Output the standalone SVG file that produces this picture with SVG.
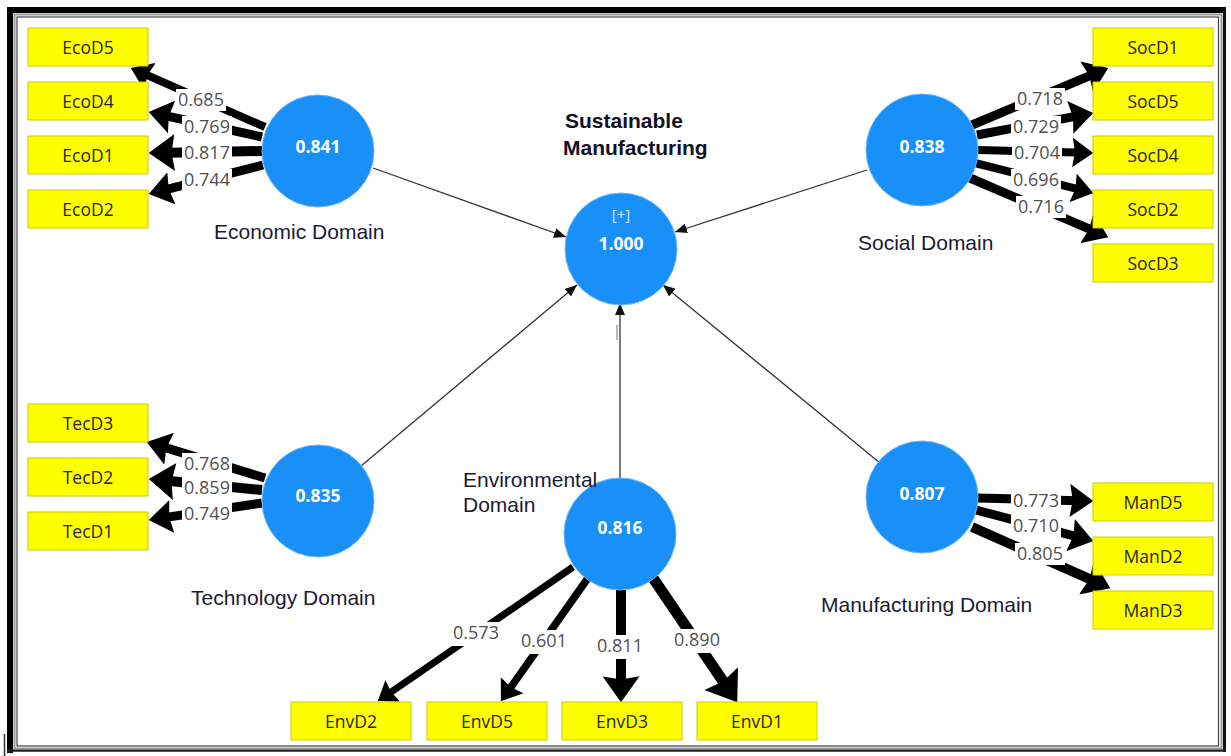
<svg xmlns="http://www.w3.org/2000/svg" width="1231" height="756" viewBox="0 0 1231 756">
  <style>
    .lv { fill: #1890f8; stroke: #6db5fb; stroke-width: 1; }
    .val { font-family: "Open Sans", "Noto Sans", sans-serif; font-weight: 700; font-size: 17.5px; fill: #ffffff; text-anchor: middle; }
    .name { font-family: "Liberation Sans", Arial, sans-serif; font-size: 21px; fill: #1a1a33; }
    .title { font-family: "Liberation Sans", Arial, sans-serif; font-size: 21px; font-weight: 700; fill: #111122; }
    .ind rect { fill: #ffff00; stroke: #cccc00; stroke-width: 1; }
    .ind text { font-family: "Open Sans", "Noto Sans", sans-serif; font-size: 17.5px; fill: #262626; text-anchor: middle; }
    .load { stroke: #000000; fill: none; marker-end: url(#head); }
    .path { stroke: #333333; stroke-width: 1.3; fill: none; marker-end: url(#tip); }
    .lbg { fill: #ffffff; }
    .ld { font-family: "Open Sans", "Noto Sans", sans-serif; font-size: 18px; fill: #505050; text-anchor: middle; }
  </style>
  <defs>
    <marker id="head" viewBox="0 -5 10 10" refX="6.8" refY="0" markerWidth="2.6" markerHeight="3.7" orient="auto" preserveAspectRatio="none">
      <path d="M0,-5 L10,0 L0,5 L1.2,0 Z" fill="#000000"/>
    </marker>
    <marker id="tip" viewBox="0 -5 12 10" refX="12" refY="0" markerWidth="12" markerHeight="10" markerUnits="userSpaceOnUse" orient="auto">
      <path d="M0,-5 L12,0 L0,5 Z" fill="#111111"/>
    </marker>
  </defs>

  <rect width="1231" height="756" fill="#ffffff"/>

  <!-- window frame -->
  <g id="frame" fill="none">
    <line x1="10" y1="7" x2="10" y2="753" stroke="#000" stroke-width="6"/>
    <line x1="7" y1="10" x2="1226" y2="10" stroke="#000" stroke-width="6"/>
    <line x1="1224.5" y1="7" x2="1224.5" y2="752" stroke="#111" stroke-width="3"/>
    <line x1="7" y1="750.5" x2="1226" y2="750.5" stroke="#222" stroke-width="2.5"/>
    <rect x="14.5" y="14.5" width="1207" height="734" stroke="#9a9a9a" stroke-width="2"/>
    <rect x="17" y="17" width="1201.5" height="729" stroke="#444" stroke-width="1.2"/>
    <line x1="4.5" y1="734" x2="4.5" y2="756" stroke="#333" stroke-width="1.5"/>
  </g>

  <g id="connectors">
    <!-- structural paths into the higher-order construct -->
    <line class="path" x1="373" y1="168" x2="566" y2="237"/>
    <line class="path" x1="867" y1="170" x2="675" y2="232"/>
    <line class="path" x1="361" y1="466" x2="577" y2="285"/>
    <line class="path" x1="620" y1="479" x2="620" y2="303"/>
    <line class="path" x1="880" y1="463" x2="663" y2="285"/>
    <line x1="617" y1="325" x2="617" y2="340" stroke="#888" stroke-width="1.2"/>

    <!-- Economic loadings -->
    <line class="load" stroke-width="8" x1="265" y1="127" x2="136.9" y2="70.6"/>
    <line class="load" stroke-width="9" x1="262" y1="137" x2="156" y2="113.6"/>
    <line class="load" stroke-width="10" x1="262" y1="151" x2="157" y2="152.9"/>
    <line class="load" stroke-width="9" x1="263" y1="165" x2="156" y2="192.2"/>

    <!-- Social loadings -->
    <line class="load" stroke-width="9" x1="972" y1="125" x2="1101.4" y2="70.8"/>
    <line class="load" stroke-width="9" x1="977" y1="135" x2="1085.9" y2="114.3"/>
    <line class="load" stroke-width="8" x1="978" y1="150" x2="1086.6" y2="152.8"/>
    <line class="load" stroke-width="8" x1="975" y1="163" x2="1086.8" y2="191.4"/>
    <line class="load" stroke-width="9" x1="970" y1="178" x2="1101.4" y2="234.2"/>

    <!-- Technology loadings -->
    <line class="load" stroke-width="9" x1="265" y1="478" x2="153.9" y2="444.1"/>
    <line class="load" stroke-width="10" x1="262" y1="490" x2="157" y2="479.8"/>
    <line class="load" stroke-width="9" x1="262" y1="503" x2="156.1" y2="518.9"/>

    <!-- Manufacturing loadings -->
    <line class="load" stroke-width="9" x1="977" y1="498" x2="1085.8" y2="500.9"/>
    <line class="load" stroke-width="9" x1="976" y1="510" x2="1086" y2="539.2"/>
    <line class="load" stroke-width="10" x1="972" y1="527" x2="1102.7" y2="584.8"/>

    <!-- Environmental loadings -->
    <line class="load" stroke-width="7" x1="573" y1="567" x2="382.6" y2="697.8"/>
    <line class="load" stroke-width="7.5" x1="588" y1="578" x2="504.5" y2="696.1"/>
    <line class="load" stroke-width="10" x1="621" y1="589" x2="621" y2="694"/>
    <line class="load" stroke-width="11" x1="653" y1="578" x2="732.1" y2="694.7"/>

    <!-- loading values -->
    <g id="loading-labels">
      <rect class="lbg" x="176" y="89" width="50" height="22"/><text class="ld" x="201" y="106">0.685</text>
      <rect class="lbg" x="182" y="116" width="50" height="22"/><text class="ld" x="207" y="133">0.769</text>
      <rect class="lbg" x="182" y="142" width="50" height="22"/><text class="ld" x="207" y="159">0.817</text>
      <rect class="lbg" x="182" y="169" width="50" height="22"/><text class="ld" x="207" y="186">0.744</text>

      <rect class="lbg" x="1015" y="88" width="50" height="22"/><text class="ld" x="1040" y="105">0.718</text>
      <rect class="lbg" x="1011" y="116" width="50" height="22"/><text class="ld" x="1036" y="133">0.729</text>
      <rect class="lbg" x="1012" y="142" width="50" height="22"/><text class="ld" x="1037" y="159">0.704</text>
      <rect class="lbg" x="1011" y="169" width="50" height="22"/><text class="ld" x="1036" y="186">0.696</text>
      <rect class="lbg" x="1016" y="196" width="50" height="22"/><text class="ld" x="1041" y="213">0.716</text>

      <rect class="lbg" x="182" y="453" width="50" height="22"/><text class="ld" x="207" y="470">0.768</text>
      <rect class="lbg" x="182" y="477" width="50" height="22"/><text class="ld" x="207" y="494">0.859</text>
      <rect class="lbg" x="182" y="503" width="50" height="22"/><text class="ld" x="207" y="520">0.749</text>

      <rect class="lbg" x="1011" y="490" width="50" height="22"/><text class="ld" x="1036" y="507">0.773</text>
      <rect class="lbg" x="1011" y="515" width="50" height="22"/><text class="ld" x="1036" y="532">0.710</text>
      <rect class="lbg" x="1015" y="543" width="50" height="22"/><text class="ld" x="1040" y="560">0.805</text>

      <rect class="lbg" x="451" y="622" width="50" height="24"/><text class="ld" x="476" y="639">0.573</text>
      <rect class="lbg" x="519" y="630" width="50" height="24"/><text class="ld" x="544" y="647">0.601</text>
      <rect class="lbg" x="595" y="635" width="50" height="24"/><text class="ld" x="620" y="652">0.811</text>
      <rect class="lbg" x="672" y="629" width="50" height="24"/><text class="ld" x="697" y="646">0.890</text>
    </g>
  </g>

  <!-- latent constructs -->
  <g id="sustainable-manufacturing">
    <circle class="lv" cx="621" cy="249" r="56"/>
    <text class="val" x="621" y="220" style="font-size:15px;font-weight:400;fill:#cfe6ff">[+]</text>
    <text class="val" x="621" y="250">1.000</text>
    <text class="title" x="565" y="128">Sustainable</text>
    <text class="title" x="563" y="155">Manufacturing</text>
  </g>
  <g id="economic-domain">
    <circle class="lv" cx="318" cy="151" r="56"/>
    <text class="val" x="318" y="153">0.841</text>
    <text class="name" x="214" y="239">Economic Domain</text>
  </g>
  <g id="social-domain">
    <circle class="lv" cx="922" cy="150" r="56"/>
    <text class="val" x="922" y="153">0.838</text>
    <text class="name" x="858" y="250">Social Domain</text>
  </g>
  <g id="technology-domain">
    <circle class="lv" cx="318" cy="501" r="56"/>
    <text class="val" x="318" y="502">0.835</text>
    <text class="name" x="191" y="605">Technology Domain</text>
  </g>
  <g id="environmental-domain">
    <circle class="lv" cx="620" cy="534" r="56"/>
    <text class="val" x="620" y="534">0.816</text>
    <text class="name" x="463" y="487">Environmental</text>
    <text class="name" x="463" y="512">Domain</text>
  </g>
  <g id="manufacturing-domain">
    <circle class="lv" cx="922" cy="497" r="56"/>
    <text class="val" x="922" y="500">0.807</text>
    <text class="name" x="821" y="612">Manufacturing Domain</text>
  </g>

  <!-- indicators -->
  <g id="EcoD5" class="ind"><rect x="28" y="28" width="120" height="38"/><text x="88" y="54">EcoD5</text></g>
  <g id="EcoD4" class="ind"><rect x="28" y="82" width="120" height="38"/><text x="88" y="108">EcoD4</text></g>
  <g id="EcoD1" class="ind"><rect x="28" y="136" width="120" height="38"/><text x="88" y="162">EcoD1</text></g>
  <g id="EcoD2" class="ind"><rect x="28" y="190" width="120" height="38"/><text x="88" y="216">EcoD2</text></g>

  <g id="TecD3" class="ind"><rect x="28" y="404" width="120" height="38"/><text x="88" y="430">TecD3</text></g>
  <g id="TecD2" class="ind"><rect x="28" y="458" width="120" height="38"/><text x="88" y="484">TecD2</text></g>
  <g id="TecD1" class="ind"><rect x="28" y="512" width="120" height="38"/><text x="88" y="538">TecD1</text></g>

  <g id="SocD1" class="ind"><rect x="1093" y="28" width="120" height="38"/><text x="1153" y="54">SocD1</text></g>
  <g id="SocD5" class="ind"><rect x="1093" y="82" width="120" height="38"/><text x="1153" y="108">SocD5</text></g>
  <g id="SocD4" class="ind"><rect x="1093" y="136" width="120" height="38"/><text x="1153" y="162">SocD4</text></g>
  <g id="SocD2" class="ind"><rect x="1093" y="190" width="120" height="38"/><text x="1153" y="216">SocD2</text></g>
  <g id="SocD3" class="ind"><rect x="1093" y="244" width="120" height="38"/><text x="1153" y="270">SocD3</text></g>

  <g id="ManD5" class="ind"><rect x="1093" y="483" width="120" height="38"/><text x="1153" y="509">ManD5</text></g>
  <g id="ManD2" class="ind"><rect x="1093" y="537" width="120" height="38"/><text x="1153" y="563">ManD2</text></g>
  <g id="ManD3" class="ind"><rect x="1093" y="591" width="120" height="38"/><text x="1153" y="617">ManD3</text></g>

  <g id="EnvD2" class="ind"><rect x="291" y="702" width="120" height="38"/><text x="351" y="728">EnvD2</text></g>
  <g id="EnvD5" class="ind"><rect x="427" y="702" width="120" height="38"/><text x="487" y="728">EnvD5</text></g>
  <g id="EnvD3" class="ind"><rect x="562" y="702" width="120" height="38"/><text x="622" y="728">EnvD3</text></g>
  <g id="EnvD1" class="ind"><rect x="697" y="702" width="120" height="38"/><text x="757" y="728">EnvD1</text></g>
</svg>
